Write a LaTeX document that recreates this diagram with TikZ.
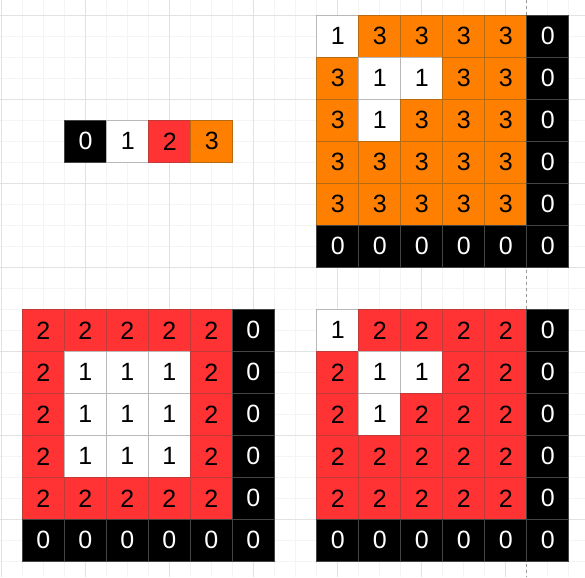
\documentclass[tikz,border=0pt]{standalone}
\usepackage{fontspec}
\setmainfont{Liberation Sans}
\definecolor{cred}{HTML}{FF3333}
\definecolor{corange}{HTML}{FF8000}
\definecolor{credline}{HTML}{C03A3A}
\definecolor{corline}{HTML}{B86A10}
\definecolor{cwhline}{HTML}{B8B8B8}
\definecolor{cblline}{HTML}{444444}
\definecolor{gminor}{HTML}{F4F4F4}
\definecolor{gmajor}{HTML}{E2E2E2}
\newcommand\mygrid[4]{%
  \foreach \row [count=\r from 0] in {#4} {
    \foreach \v [count=\c from 0] in \row {
      \node[cell, c\v] (#1-\r-\c) at ({#2+21+42*\c}, {#3+21+42*\r}) {\v};
    }
  }%
}
\begin{document}
\begin{tikzpicture}[x=1pt, y=-1pt,
  cell/.style={minimum size=42pt, inner sep=0pt, outer sep=0pt,
    font=\fontsize{25}{25}\selectfont, line width=0.6pt},
  c0/.style={fill=black, draw=cblline, text=white},
  c1/.style={fill=white, draw=cwhline, text=black},
  c2/.style={fill=cred, draw=credline, text=black},
  c3/.style={fill=corange, draw=corline, text=black},
  minorline/.style={draw=gminor, line width=0.6pt},
  majorline/.style={draw=gmajor, line width=0.8pt}]
\useasboundingbox (0,0) rectangle (585,577);
\fill[white] (0,0) rectangle (585,577);
% background grid
\foreach \k in {0,...,27} {
  \draw[minorline] ({1.3+21*\k},0) -- ({1.3+21*\k},577);
}
\foreach \k in {0,...,26} {
  \draw[minorline] (0,{15+21*\k}) -- (585,{15+21*\k});
}
\foreach \k in {0,...,6} {
  \draw[majorline] ({1.3+84*\k},0) -- ({1.3+84*\k},577);
  \draw[majorline] (0,{15+84*\k}) -- (585,{15+84*\k});
}
% dashed guide
\draw[draw=black!40, line width=0.6pt, dash pattern=on 3pt off 3pt] (526.7,0) -- (526.7,577);
% legend
\mygrid{L}{64.7}{120.3}{{0,1,2,3}}
% top right
\mygrid{A}{316.7}{15}{{1,3,3,3,3,0},{3,1,1,3,3,0},{3,1,3,3,3,0},{3,3,3,3,3,0},{3,3,3,3,3,0},{0,0,0,0,0,0}}
% bottom left
\mygrid{B}{22.3}{309.3}{{2,2,2,2,2,0},{2,1,1,1,2,0},{2,1,1,1,2,0},{2,1,1,1,2,0},{2,2,2,2,2,0},{0,0,0,0,0,0}}
% bottom right
\mygrid{C}{316.7}{309.3}{{1,2,2,2,2,0},{2,1,1,2,2,0},{2,1,2,2,2,0},{2,2,2,2,2,0},{2,2,2,2,2,0},{0,0,0,0,0,0}}
\end{tikzpicture}
\end{document}
